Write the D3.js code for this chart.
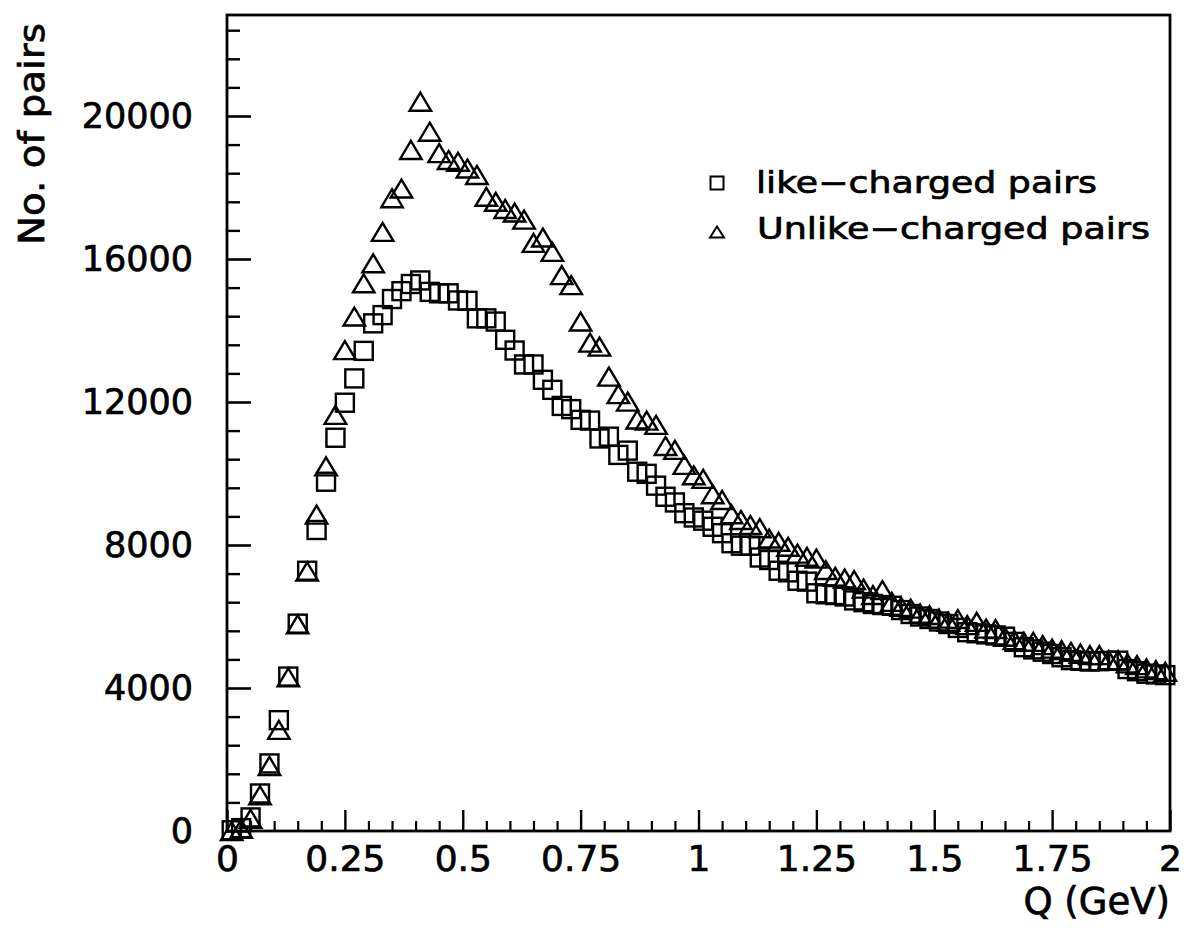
<!DOCTYPE html>
<html>
<head>
<meta charset="utf-8">
<script src="https://cdn.jsdelivr.net/npm/d3@7"></script>
<style>
  body { margin: 0; background: #fff; }
  svg { display: block; }
  text { font-family: "DejaVu Sans", sans-serif; fill: #000; stroke: #000; stroke-width: 0.7px; }
</style>
</head>
<body>
<svg id="chart" width="1190" height="933"></svg>
<script>
// Pair momentum difference Q (GeV), bin centres
const qBins = [
  0.01, 0.03, 0.05, 0.07, 0.09, 0.11, 0.13, 0.15, 0.17, 0.19,
  0.21, 0.23, 0.25, 0.27, 0.29, 0.31, 0.33, 0.35, 0.37, 0.39,
  0.41, 0.43, 0.45, 0.47, 0.49, 0.51, 0.53, 0.55, 0.57, 0.59,
  0.61, 0.63, 0.65, 0.67, 0.69, 0.71, 0.73, 0.75, 0.77, 0.79,
  0.81, 0.83, 0.85, 0.87, 0.89, 0.91, 0.93, 0.95, 0.97, 0.99,
  1.01, 1.03, 1.05, 1.07, 1.09, 1.11, 1.13, 1.15, 1.17, 1.19,
  1.21, 1.23, 1.25, 1.27, 1.29, 1.31, 1.33, 1.35, 1.37, 1.39,
  1.41, 1.43, 1.45, 1.47, 1.49, 1.51, 1.53, 1.55, 1.57, 1.59,
  1.61, 1.63, 1.65, 1.67, 1.69, 1.71, 1.73, 1.75, 1.77, 1.79,
  1.81, 1.83, 1.85, 1.87, 1.89, 1.91, 1.93, 1.95, 1.97, 1.99
];

// Like-charged pairs per bin
const likePairs = [
  20, 80, 380, 1050, 1890, 3100, 4320, 5800, 7280, 8420,
  9770, 11000, 11980, 12660, 13430, 14200, 14430, 14880, 15100, 15300,
  15400, 15080, 15040, 15040, 14840, 14830, 14340, 14340, 14250, 13740,
  13440, 13050, 13050, 12620, 12340, 11890, 11800, 11500, 11480, 10980,
  11030, 10520, 10640, 10050, 9990, 9660, 9350, 9190, 8890, 8770,
  8680, 8510, 8330, 8050, 7980, 7980, 7650, 7580, 7280, 7235,
  7000, 6975, 6650, 6620, 6600, 6560, 6450, 6400, 6350, 6320,
  6300, 6180, 6070, 6000, 5930, 5860, 5790, 5680, 5560, 5530,
  5500, 5470, 5435, 5290, 5140, 5080, 5015, 4950, 4860, 4780,
  4760, 4740, 4750, 4760, 4765, 4530, 4470, 4400, 4380, 4360
];

// Unlike-charged pairs per bin
const unlikePairs = [
  0, 60, 340, 1000, 1820, 2830, 4300, 5780, 7260, 8850,
  10200, 11640, 13450, 14390, 15320, 15880, 16760, 17700, 17970, 19050,
  20400, 19560, 18960, 18770, 18720, 18530, 18350, 17740, 17600, 17400,
  17300, 17100, 16450, 16600, 16200, 15550, 15270, 14250, 13660, 13550,
  12710, 12220, 12010, 11510, 11480, 11360, 10770, 10660, 10240, 9950,
  9850, 9420, 9260, 8860, 8700, 8560, 8470, 8180, 8090, 7950,
  7760, 7670, 7620, 7300, 7110, 7060, 7020, 6780, 6600, 6740,
  6410, 6270, 6220, 6080, 6040, 5940, 5850, 5930, 5760, 5850,
  5660, 5650, 5430, 5340, 5290, 5290, 5200, 5100, 5060, 5010,
  4960, 4920, 4920, 4780, 4780, 4690, 4640, 4550, 4500, 4450
];

const seriesNames = ["like\u2212charged pairs", "Unlike\u2212charged pairs"];

const xTicks = [0, 0.25, 0.5, 0.75, 1, 1.25, 1.5, 1.75, 2];
const xTickLabels = ["0", "0.25", "0.5", "0.75", "1", "1.25", "1.5", "1.75", "2"];
const xMinorTicks = d3.range(0, 40).map(k => k * 0.05).filter(v => !xTicks.includes(+v.toFixed(2)));
const yTicks = [0, 4000, 8000, 12000, 16000, 20000];
const yTickLabels = ["0", "4000", "8000", "12000", "16000", "20000"];
const yMinorTicks = d3.range(1, 29).map(k => k * 800).filter(v => v % 4000 !== 0);

const xTitle = "Q (GeV)";
const yTitle = "No. of pairs";

(function draw() {
  const svg = d3.select("#chart");
  const plotLeft = 227, plotRight = 1170, plotTop = 15, plotBottom = 831;

  const x = d3.scaleLinear().domain([0, 2]).range([plotLeft, plotRight]);
  const y = d3.scaleLinear().domain([0, 22825]).range([plotBottom, plotTop]);

  // frame
  svg.append("rect")
    .attr("x", plotLeft).attr("y", plotTop)
    .attr("width", plotRight - plotLeft).attr("height", plotBottom - plotTop)
    .attr("fill", "none").attr("stroke", "#000").attr("stroke-width", 2.8);

  // x axis: major + minor inward ticks
  const gx = svg.append("g").attr("transform", `translate(0,${plotBottom})`)
    .call(d3.axisBottom(x).tickValues(xTicks).tickSize(-21).tickPadding(14)
      .tickFormat((d, i) => xTickLabels[i]));
  gx.select(".domain").remove();
  gx.selectAll(".tick line").attr("stroke", "#000").attr("stroke-width", 2.4);
  gx.selectAll(".tick text").attr("font-size", 36).attr("font-family", "DejaVu Sans").attr("fill", "#000");

  const gxm = svg.append("g").attr("transform", `translate(0,${plotBottom})`)
    .call(d3.axisBottom(x).tickValues(xMinorTicks).tickSize(-10).tickFormat(""));
  gxm.select(".domain").remove();
  gxm.selectAll(".tick line").attr("stroke", "#000").attr("stroke-width", 2.2);

  // y axis: major + minor inward ticks
  const gy = svg.append("g").attr("transform", `translate(${plotLeft},0)`)
    .call(d3.axisLeft(y).tickValues(yTicks).tickSize(-24).tickPadding(34)
      .tickFormat((d, i) => yTickLabels[i]));
  gy.select(".domain").remove();
  gy.selectAll(".tick line").attr("stroke", "#000").attr("stroke-width", 2.6);
  gy.selectAll(".tick text").attr("font-size", 35).attr("font-family", "DejaVu Sans").attr("fill", "#000");

  const gym = svg.append("g").attr("transform", `translate(${plotLeft},0)`)
    .call(d3.axisLeft(y).tickValues(yMinorTicks).tickSize(-13).tickFormat(""));
  gym.select(".domain").remove();
  gym.selectAll(".tick line").attr("stroke", "#000").attr("stroke-width", 2.4);

  // axis titles
  svg.append("text")
    .attr("x", plotRight).attr("y", 914)
    .attr("text-anchor", "end").attr("font-size", 37)
    .text(xTitle);

  svg.append("text")
    .attr("transform", "translate(44,134) rotate(-90)")
    .attr("text-anchor", "middle").attr("font-size", 36)
    .attr("textLength", 222).attr("lengthAdjust", "spacingAndGlyphs")
    .text(yTitle);

  // markers
  const sq = 18, triW = 21.5, triH = 18;
  const triPath = (w, h) => `M0,${-h / 2}L${w / 2},${h / 2}L${-w / 2},${h / 2}Z`;

  const data = qBins.map((q, i) => ({ q, like: likePairs[i], unlike: unlikePairs[i] }));

  svg.append("g").selectAll("rect").data(data).join("rect")
    .attr("x", d => x(d.q) - sq / 2)
    .attr("y", d => y(d.like) - sq / 2)
    .attr("width", sq).attr("height", sq)
    .attr("fill", "none").attr("stroke", "#000").attr("stroke-width", 2.4);

  svg.append("g").selectAll("path").data(data).join("path")
    .attr("transform", d => `translate(${x(d.q)},${y(d.unlike)})`)
    .attr("d", triPath(triW, triH))
    .attr("fill", "none").attr("stroke", "#000").attr("stroke-width", 2.4);

  // legend
  const lg = svg.append("g");
  lg.append("rect")
    .attr("x", 717 - 6.5).attr("y", 183 - 6.5).attr("width", 13).attr("height", 13)
    .attr("fill", "none").attr("stroke", "#000").attr("stroke-width", 2);
  lg.append("path")
    .attr("transform", "translate(717,232)")
    .attr("d", triPath(14, 11))
    .attr("fill", "none").attr("stroke", "#000").attr("stroke-width", 2);
  lg.append("text")
    .attr("x", 756).attr("y", 193).attr("font-size", 30)
    .attr("textLength", 341).attr("lengthAdjust", "spacingAndGlyphs")
    .text(seriesNames[0]);
  lg.append("text")
    .attr("x", 757).attr("y", 239).attr("font-size", 30)
    .attr("textLength", 393).attr("lengthAdjust", "spacingAndGlyphs")
    .text(seriesNames[1]);
})();
</script>
</body>
</html>
